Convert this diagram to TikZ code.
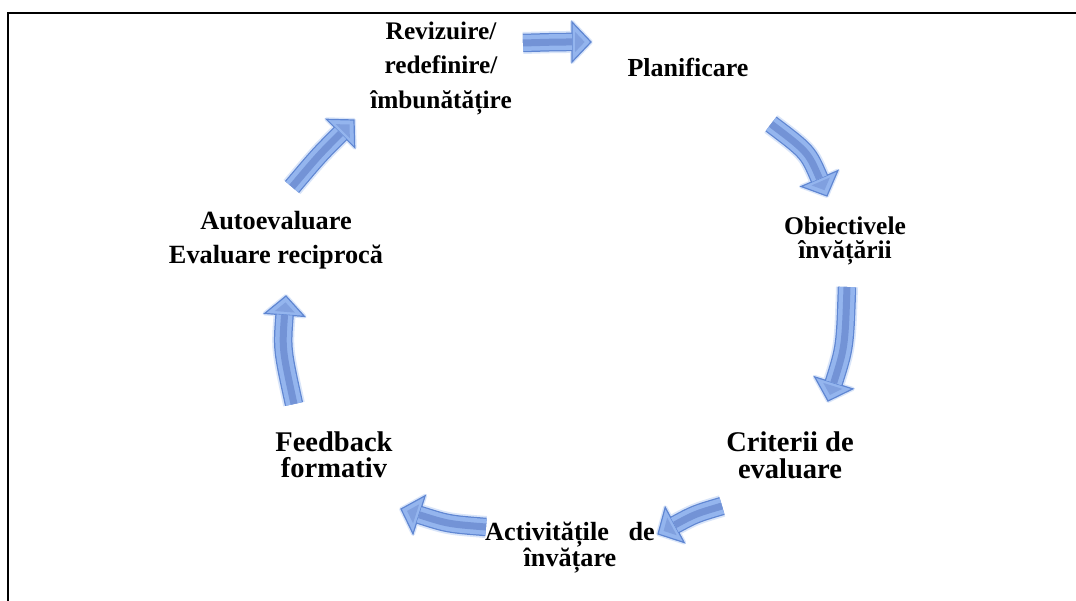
\documentclass[tikz,border=0pt]{standalone}
\usepackage{fontspec}
\setmainfont{Liberation Serif}
\usetikzlibrary{calc}

\definecolor{arrowedge}{HTML}{5F86D2}
\definecolor{arrowfill}{HTML}{94B5EE}
\definecolor{arrowdark}{HTML}{7393D6}
\definecolor{arrowglow}{HTML}{D9E5F9}

% A curved block arrow: tail #1, control point #2, tip #3
\newcommand{\cyclearrow}[3]{%
  \coordinate (#3-base) at ($(#3)!19pt!(#2)$);
  \coordinate (#3-w1) at ($(#3-base)!20pt!90:(#3)$);
  \coordinate (#3-w2) at ($(#3-base)!20pt!-90:(#3)$);
  \coordinate (#3-g) at ($(#3-base)!0.33!(#3)$);
  \draw[arrowglow, line width=22pt] (#1) .. controls (#2) .. (#3-base);
  \draw[arrowglow, line width=4pt, line join=round] (#3-w1) -- (#3) -- (#3-w2) -- cycle;
  \filldraw[fill=arrowfill, draw=arrowedge, line width=1.2pt, line join=miter]
    (#3-w1) -- (#3) -- (#3-w2) -- cycle;
  \fill[arrowdark, opacity=0.6] ($(#3-g)!0.5!(#3-w1)$) -- ($(#3-g)!0.5!(#3)$) -- ($(#3-g)!0.5!(#3-w2)$) -- cycle;
  \draw[arrowedge, line width=18.5pt] (#1) .. controls (#2) .. (#3-base);
  \draw[arrowfill, line width=16pt] (#1) .. controls (#2) .. (#3-base);
  \draw[arrowdark, line width=7pt] (#1) .. controls (#2) .. (#3-base);
}

\tikzset{
  label/.style={align=center, inner sep=0pt, font=\bfseries\fontsize{26}{34}\selectfont},
  frame/.style={line width=2.5pt, black}
}

\begin{document}
\begin{tikzpicture}[x=1pt, y=-1pt]
  \useasboundingbox (0,0) rectangle (1076,601);
  \fill[white] (0,0) rectangle (1076,601);

  % open frame: left and top edges
  \draw[frame] (8,601) -- (8,13) -- (1076,13);

  % stage labels
  \node[label, font=\bfseries\fontsize{25.3}{34.5}\selectfont] (rev) at (441,68) {Revizuire/\\redefinire/\\îmbunătățire};
  \node[label] (plan) at (688,67) {Planificare};
  \node[label, font=\bfseries\fontsize{25.5}{24}\selectfont] (obj) at (845,241) {Obiectivele\\învățării};
  \node[label, font=\bfseries\fontsize{28.5}{27}\selectfont] (crit) at (790,455) {Criterii de\\evaluare};
  \node[label, font=\bfseries\fontsize{26.2}{24}\selectfont] (act) at (570,548) {Activitățile\ \ \ de\\învățare};
  \node[label, font=\bfseries\fontsize{28.5}{26.5}\selectfont] (feed) at (334,455) {Feedback\\formativ};
  \node[label, font=\bfseries\fontsize{26.3}{34}\selectfont] (auto) at (276,240) {Autoevaluare\\Evaluare reciprocă};

  % arrow geometry (tail, control, tip)
  \coordinate (a1s) at (523,43);  \coordinate (a1c) at (557,42);  \coordinate (a1t) at (591,42);
  \coordinate (a2s) at (771,124); \coordinate (a2c) at (808,152); \coordinate (a2t) at (827,196);
  \coordinate (a3s) at (847,287); \coordinate (a3c) at (845,347); \coordinate (a3t) at (828,401);
  \coordinate (a4s) at (722,506); \coordinate (a4c) at (695,514); \coordinate (a4t) at (658,534);
  \coordinate (a5s) at (486,527); \coordinate (a5c) at (448,524); \coordinate (a5t) at (401,509);
  \coordinate (a6s) at (294,404); \coordinate (a6c) at (282,349); \coordinate (a6t) at (286,296);
  \coordinate (a7s) at (292,187); \coordinate (a7c) at (319,155); \coordinate (a7t) at (354,120);

  \cyclearrow{a1s}{a1c}{a1t}
  \cyclearrow{a2s}{a2c}{a2t}
  \cyclearrow{a3s}{a3c}{a3t}
  \cyclearrow{a4s}{a4c}{a4t}
  \cyclearrow{a5s}{a5c}{a5t}
  \cyclearrow{a6s}{a6c}{a6t}
  \cyclearrow{a7s}{a7c}{a7t}
\end{tikzpicture}
\end{document}
